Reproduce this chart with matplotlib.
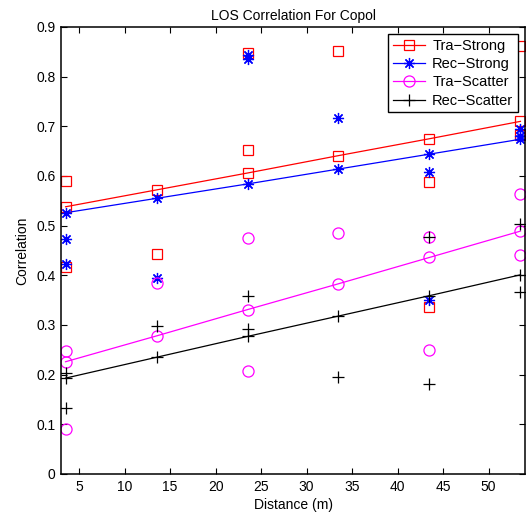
import matplotlib.pyplot as plt

plt.rcParams["font.family"] = ["Liberation Sans", "DejaVu Sans"]

# distances where the fit lines are evaluated
dist = [3.5, 13.5, 23.5, 33.5, 43.5, 53.5]

# linear fit values per link type
tra_strong_fit = [0.538, 0.572, 0.606, 0.641, 0.675, 0.710]
rec_strong_fit = [0.526, 0.555, 0.584, 0.614, 0.644, 0.674]
tra_scatter_fit = [0.226, 0.278, 0.331, 0.383, 0.436, 0.489]
rec_scatter_fit = [0.193, 0.235, 0.277, 0.318, 0.359, 0.401]

# measured correlations
tra_strong_x = [3.5, 3.5, 13.5, 23.5, 23.5, 33.5, 43.5, 43.5, 53.5, 53.5]
tra_strong_y = [0.590, 0.416, 0.443, 0.848, 0.653, 0.852, 0.588, 0.337, 0.862, 0.683]

rec_strong_x = [3.5, 3.5, 13.5, 23.5, 23.5, 33.5, 43.5, 43.5, 53.5, 53.5]
rec_strong_y = [0.474, 0.422, 0.394, 0.844, 0.836, 0.716, 0.608, 0.350, 0.694, 0.681]

tra_scatter_x = [3.5, 3.5, 13.5, 23.5, 23.5, 33.5, 43.5, 43.5, 53.5, 53.5]
tra_scatter_y = [0.248, 0.091, 0.385, 0.475, 0.207, 0.486, 0.477, 0.249, 0.563, 0.441]

rec_scatter_x = [3.5, 3.5, 13.5, 23.5, 23.5, 33.5, 43.5, 43.5, 53.5, 53.5]
rec_scatter_y = [0.203, 0.132, 0.298, 0.358, 0.291, 0.195, 0.478, 0.181, 0.504, 0.367]

labels = ["Tra\u2212Strong", "Rec\u2212Strong", "Tra\u2212Scatter", "Rec\u2212Scatter"]

fig = plt.figure(figsize=(5.31, 5.20), dpi=100)
ax = fig.add_axes([0.1149, 0.0885, 0.8738, 0.8596])

star = (8, 2, 0)
styles = [
    dict(color="red", marker="s", ms=7),
    dict(color="blue", marker=star, ms=8),
    dict(color="magenta", marker="o", ms=8),
    dict(color="black", marker="+", ms=9),
]
fits = [tra_strong_fit, rec_strong_fit, tra_scatter_fit, rec_scatter_fit]
points = [(tra_strong_x, tra_strong_y), (rec_strong_x, rec_strong_y),
          (tra_scatter_x, tra_scatter_y), (rec_scatter_x, rec_scatter_y)]

lines = []
for fit, (px, py), st, lab in zip(fits, points, styles, labels):
    ln, = ax.plot(dist, fit, color=st["color"], marker=st["marker"], ms=st["ms"],
                  mfc="none", mew=0.9, lw=0.9, label=lab)
    ax.plot(px, py, ls="none", color=st["color"], marker=st["marker"], ms=st["ms"],
            mfc="none", mew=0.9)
    lines.append(ln)

ax.set_xlim(3, 54)
ax.set_ylim(0, 0.9)
ax.set_xticks(range(5, 51, 5))
ax.set_yticks([i / 10 for i in range(10)])
ax.set_yticklabels(["0"] + ["%.1f" % (i / 10) for i in range(1, 10)])
ax.tick_params(direction="in", top=True, right=True, length=4, width=0.8,
               labelsize=10, pad=4)
for s in ax.spines.values():
    s.set_linewidth(1.1)

ax.set_title("LOS Correlation For Copol", fontsize=10, pad=5)
ax.set_xlabel("Distance (m)", fontsize=10, labelpad=3)
ax.set_ylabel("Correlation", fontsize=10, labelpad=5)

leg = ax.legend(handles=lines, loc="upper right", fontsize=10.5, frameon=True,
                fancybox=False, edgecolor="black", framealpha=1,
                borderaxespad=0.5, handlelength=2.2, labelspacing=0.3,
                borderpad=0.3, handletextpad=0.5)
leg.get_frame().set_linewidth(1.0)

fig.savefig("out.png", dpi=100)
